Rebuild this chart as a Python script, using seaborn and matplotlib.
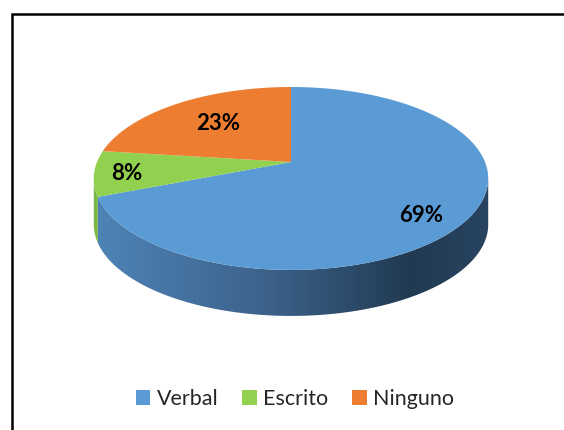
import numpy as np
import matplotlib
matplotlib.use("Agg")
import matplotlib.pyplot as plt
import seaborn as sns
from matplotlib.patches import Polygon, Rectangle
from matplotlib.colors import LinearSegmentedColormap
from matplotlib.transforms import Transform
from matplotlib.path import Path

# ---- data ----
categories = ["Verbal", "Escrito", "Ninguno"]
values = [69, 8, 23]

sns.set_theme(style="white")
plt.rcParams['font.family'] = ['Lato', 'DejaVu Sans']

colors = ["#5B9BD5", "#92D050", "#ED7D31"]
side_cmaps = [
    LinearSegmentedColormap.from_list("b", [(0, "#4f84b8"), (0.45, "#3b6189"), (0.8, "#213a52"), (1.0, "#284461")]),
    LinearSegmentedColormap.from_list("g", [(0, "#7cb846"), (1.0, "#4f7a2c")]),
    LinearSegmentedColormap.from_list("o", [(0, "#c8672a"), (1.0, "#8a4518")]),
]

W, H = 564, 430
# apex of the pie in pixels, perspective parameters (pixels)
ax_px, ay_px = 291, 162
R, A, K, DEPTH = 194.0, 88.5, 0.18, 46.0


class Perspective(Transform):
    """Tilted-disc projection: unit pie coords -> pixel offsets from apex."""
    input_dims = output_dims = 2

    def transform_non_affine(self, values):
        values = np.asarray(values, dtype=float)
        u, v = values[:, 0], values[:, 1]
        s = 1.0 + K * v
        return np.column_stack([u * R / s, v * A / s])

    def transform_path_non_affine(self, path):
        pts = []
        ts = np.linspace(0, 1, 60)
        for bez, code in path.iter_bezier():
            if code == Path.MOVETO:
                pts.append(np.asarray(bez.control_points)[0])
            else:
                pts.extend(np.asarray(bez(ts))[1:])
        pts = np.array(pts)
        return Path(self.transform_non_affine(pts), closed=False)


persp = Perspective()

fig = plt.figure(figsize=(W / 100, H / 100), dpi=100)
ax = fig.add_axes([0, 0, 1, 1])

wedges, texts, autotexts = ax.pie(
    values, colors=colors, startangle=90, counterclock=False,
    autopct="%.0f%%", pctdistance=0.75,
    wedgeprops=dict(linewidth=0, zorder=3),
    textprops=dict(fontsize=16, fontweight="bold", color="black"))
for w in wedges:
    w.set_transform(persp + ax.transData)
ax.axis("off")

# label placements (pixel offsets from the apex)
label_pos = [(130, -53), (-164, -11), (-73, 39)]
for t, p in zip(autotexts, label_pos):
    t.set_position(p)
    t.set_zorder(5)

# visible side range: between left/right silhouette tangent points
th_all = np.radians(np.linspace(90, 450, 3601))
rim = persp.transform(np.column_stack([np.cos(th_all), np.sin(th_all)]))
th_left = np.degrees(th_all[np.argmin(rim[:, 0])])
th_right = np.degrees(th_all[np.argmax(rim[:, 0])])

grad = np.linspace(0, 1, 256).reshape(1, -1)
for w, cmap in zip(wedges, side_cmaps):
    t1, t2 = w.theta1, w.theta2
    for k in (-1, 0, 1):
        a = max(t1, th_left - 360 + 360 * k)
        b = min(t2, th_right - 360 + 360 * k)
        if b - a <= 0:
            continue
        th = np.radians(np.linspace(a, b, 200))
        top = persp.transform(np.column_stack([np.cos(th), np.sin(th)]))
        bot = top[::-1] - np.array([0, DEPTH])
        poly = Polygon(np.vstack([top, bot]), closed=True, transform=ax.transData)
        im = ax.imshow(grad, cmap=cmap, extent=(-200, 200, -170, 20),
                       aspect="auto", zorder=1, interpolation="bilinear")
        im.set_clip_path(poly)

ax.set_aspect("auto")
ax.set_xlim(-ax_px, W - ax_px)
ax.set_ylim(-(H - ay_px), ay_px)

# legend
fig.legend(wedges, categories, loc="center", bbox_to_anchor=(295 / W, 1 - 399 / H),
           ncol=3, frameon=False, fontsize=15.5, handlelength=0.68, handleheight=0.68,
           handletextpad=0.3, columnspacing=1.1)

# chart border (cropped at right/bottom)
fig.add_artist(Rectangle((11.5 / W, -0.1), 1.2, (H - 13.5) / H + 0.1,
                         transform=fig.transFigure, fill=False, lw=1.8, ec="black"))

fig.savefig("out.png", dpi=100)
